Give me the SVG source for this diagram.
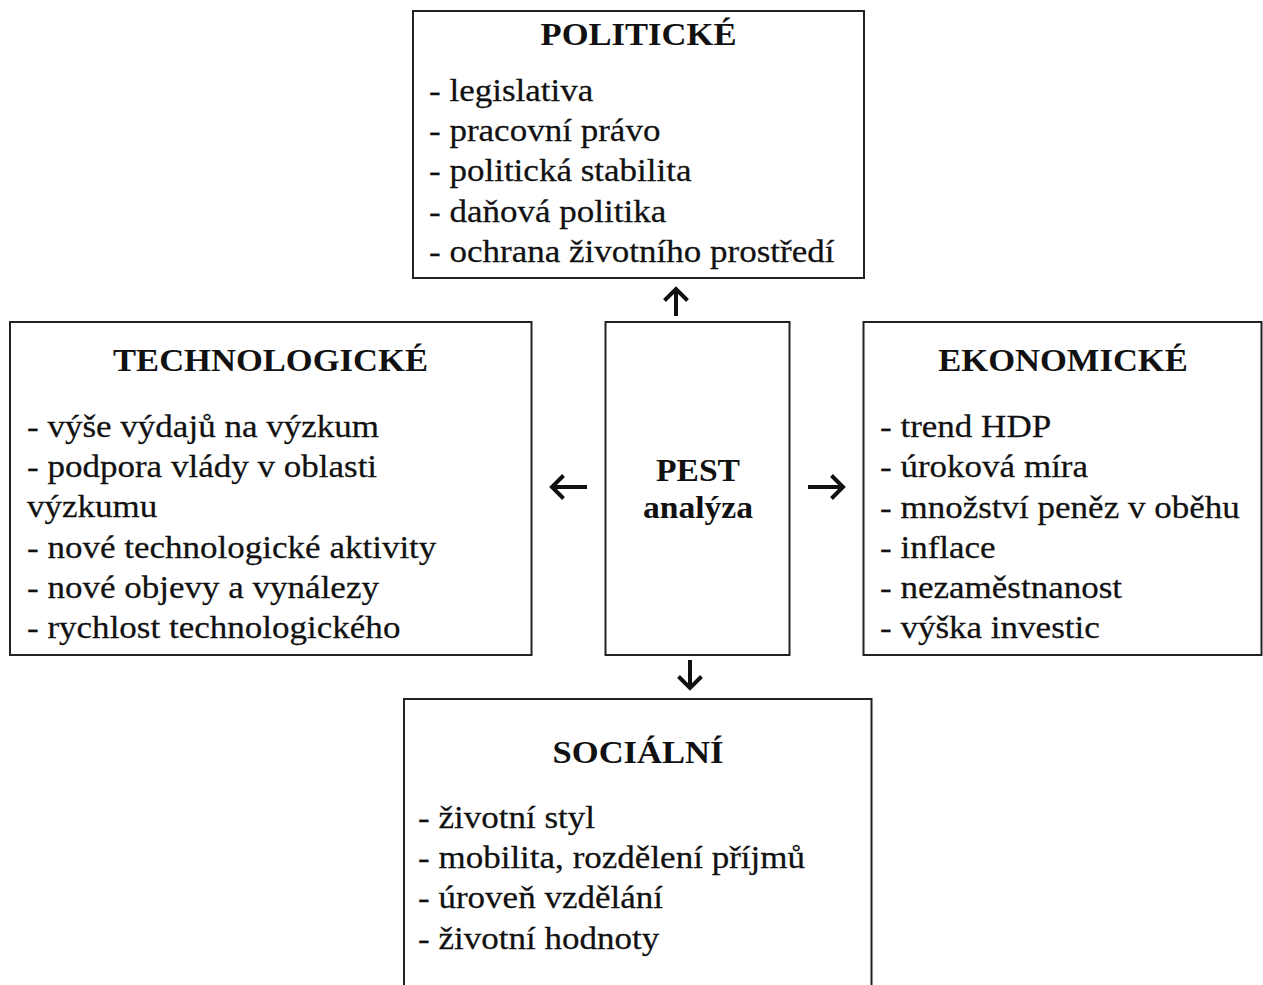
<svg xmlns="http://www.w3.org/2000/svg" width="1263" height="985" viewBox="0 0 1263 985">
<style>
.box{fill:#fff;stroke:#222;stroke-width:2}
.t{font-family:"Liberation Serif","Times New Roman",serif;font-weight:bold;font-size:32px;fill:#111;text-anchor:middle}
.b{font-family:"Liberation Serif","Times New Roman",serif;font-size:31px;fill:#111;stroke:#111;stroke-width:0.25}
.arr{fill:none;stroke:#111;stroke-width:4;stroke-linecap:butt;stroke-linejoin:miter}
</style>
<rect width="1263" height="985" fill="#fff"/>
<g id="politicke">
<rect class="box" x="413" y="11" width="451" height="267"/>
<text class="t" transform="translate(638.5 45) scale(1.08 1)">POLITICKÉ</text>
<text class="b" transform="translate(429 101) scale(1.13 1)">- legislativa</text>
<text class="b" transform="translate(429 141) scale(1.13 1)">- pracovní právo</text>
<text class="b" transform="translate(429 181) scale(1.13 1)">- politická stabilita</text>
<text class="b" transform="translate(429 222) scale(1.13 1)">- daňová politika</text>
<text class="b" transform="translate(429 262) scale(1.13 1)">- ochrana životního prostředí</text>
</g>
<g id="technologicke">
<rect class="box" x="10" y="322" width="521.5" height="333"/>
<text class="t" transform="translate(270.5 371) scale(1.08 1)">TECHNOLOGICKÉ</text>
<text class="b" transform="translate(27 437) scale(1.13 1)">- výše výdajů na výzkum</text>
<text class="b" transform="translate(27 477) scale(1.13 1)">- podpora vlády v oblasti</text>
<text class="b" transform="translate(27 517) scale(1.13 1)">výzkumu</text>
<text class="b" transform="translate(27 558) scale(1.13 1)">- nové technologické aktivity</text>
<text class="b" transform="translate(27 598) scale(1.13 1)">- nové objevy a vynálezy</text>
<text class="b" transform="translate(27 638) scale(1.13 1)">- rychlost technologického</text>
</g>
<g id="pest">
<rect class="box" x="605.5" y="322" width="184" height="333"/>
<text class="t" transform="translate(698 481) scale(1.05 1)">PEST</text>
<text class="t" transform="translate(698 518) scale(1.05 1)">analýza</text>
</g>
<g id="ekonomicke">
<rect class="box" x="863.5" y="322" width="398" height="333"/>
<text class="t" transform="translate(1063 371) scale(1.08 1)">EKONOMICKÉ</text>
<text class="b" transform="translate(880 437) scale(1.13 1)">- trend HDP</text>
<text class="b" transform="translate(880 477) scale(1.13 1)">- úroková míra</text>
<text class="b" transform="translate(880 518) scale(1.13 1)">- množství peněz v oběhu</text>
<text class="b" transform="translate(880 558) scale(1.13 1)">- inflace</text>
<text class="b" transform="translate(880 598) scale(1.13 1)">- nezaměstnanost</text>
<text class="b" transform="translate(880 638) scale(1.13 1)">- výška investic</text>
</g>
<g id="socialni">
<rect class="box" x="404" y="699" width="467.5" height="300"/>
<text class="t" transform="translate(638 763) scale(1.08 1)">SOCIÁLNÍ</text>
<text class="b" transform="translate(418 828) scale(1.13 1)">- životní styl</text>
<text class="b" transform="translate(418 868) scale(1.13 1)">- mobilita, rozdělení příjmů</text>
<text class="b" transform="translate(418 908) scale(1.13 1)">- úroveň vzdělání</text>
<text class="b" transform="translate(418 949) scale(1.13 1)">- životní hodnoty</text>
</g>
<g id="connectors">
<path class="arr" d="M676 316V289M664.5 300.5L676 289L687.5 300.5"/>
<path class="arr" d="M587 487H552M563.5 475.5L552 487L563.5 498.5"/>
<path class="arr" d="M808 487H843M831.5 475.5L843 487L831.5 498.5"/>
<path class="arr" d="M690 660V688M678.5 676.5L690 688L701.5 676.5"/>
</g>
</svg>
